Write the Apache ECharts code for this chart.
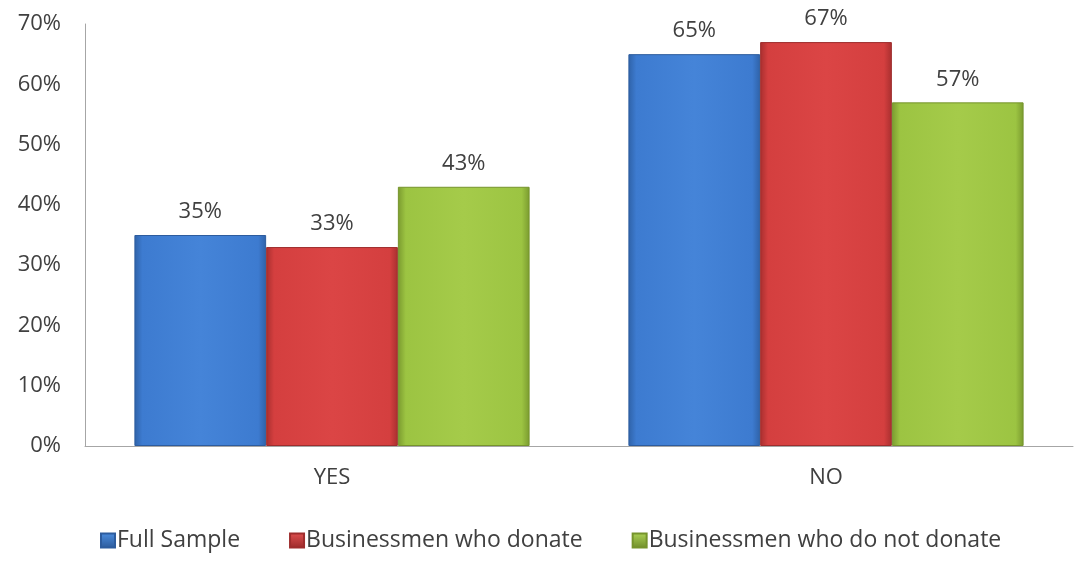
<!DOCTYPE html>
<html>
<head>
<meta charset="utf-8">
<style>
  html, body { margin: 0; padding: 0; background: #fff; }
  #chart { width: 1076px; height: 569px; }
</style>
<script src="https://cdn.jsdelivr.net/npm/echarts@6/dist/echarts.min.js"></script>
</head>
<body>
<div id="chart"></div>
<script>
// chart data
const categories = ['YES', 'NO']
const seriesNames = ['Full Sample', 'Businessmen who donate', 'Businessmen who do not donate']
const fullSample = [35, 65]
const donate = [33, 67]
const notDonate = [43, 57]

const FONT = '"Open Sans", "Noto Sans", sans-serif'

function barColor(dark, mid, light) {
  return new echarts.graphic.LinearGradient(0, 0, 1, 0, [
    { offset: 0, color: dark },
    { offset: 0.06, color: mid },
    { offset: 0.5, color: light },
    { offset: 0.94, color: mid },
    { offset: 1, color: dark }
  ])
}

function iconColor(light, dark) {
  return new echarts.graphic.LinearGradient(0, 0, 0, 1, [
    { offset: 0, color: light },
    { offset: 1, color: dark }
  ])
}

const styles = [
  { color: barColor('#2f62a8', '#3d7bd0', '#4584d8'), border: '#2d5c9e', icon: iconColor('#4c8ee0', '#2c5a9a') },
  { color: barColor('#a82f2f', '#d43f3f', '#db4545'), border: '#9e2d2d', icon: iconColor('#e05050', '#9a2a2a') },
  { color: barColor('#7a9a2f', '#9cc442', '#a5cb4a'), border: '#76942c', icon: iconColor('#aed456', '#6f8c2a') }
]

const dataSets = [fullSample, donate, notDonate]

const chart = echarts.init(document.getElementById('chart'))
chart.setOption({
  animation: false,
  grid: { left: 85, right: 3, top: 24, bottom: 123 },
  legend: {
    top: 524,
    left: 95,
    itemWidth: 14,
    itemHeight: 14,
    itemGap: 49,
    icon: 'rect',
    textStyle: { fontFamily: FONT, fontSize: 23, color: '#404040', padding: [0, 0, 0, -3] },
    data: seriesNames.map((n, i) => ({ name: n, itemStyle: { color: styles[i].icon } }))
  },
  xAxis: {
    type: 'category',
    data: categories,
    axisLine: { lineStyle: { color: '#a6a6a6', width: 1 } },
    axisTick: { show: false },
    axisLabel: { fontFamily: FONT, fontSize: 22, color: '#404040', margin: 21 }
  },
  yAxis: {
    type: 'value',
    min: 0,
    max: 70,
    interval: 10,
    axisLine: { show: true, lineStyle: { color: '#a6a6a6', width: 1 } },
    axisTick: { show: false },
    splitLine: { show: false },
    axisLabel: { fontFamily: FONT, fontSize: 22, color: '#404040', margin: 24, formatter: '{value}%' }
  },
  series: dataSets.map((d, i) => ({
    name: seriesNames[i],
    type: 'bar',
    data: d,
    barGap: '0%',
    barCategoryGap: '20%',
    itemStyle: { color: styles[i].color, borderColor: styles[i].border, borderWidth: 1 },
    label: {
      show: true,
      position: 'top',
      distance: 12,
      formatter: '{c}%',
      fontFamily: FONT,
      fontSize: 22,
      color: '#404040'
    }
  }))
})
</script>
</body>
</html>
